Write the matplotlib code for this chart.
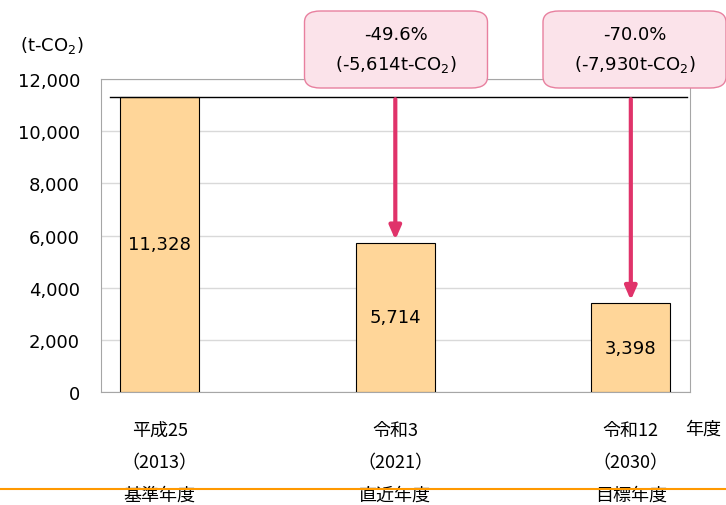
import matplotlib
matplotlib.use("Agg")
import matplotlib.pyplot as plt
from matplotlib.patches import FancyBboxPatch
from matplotlib.lines import Line2D

plt.rcParams['font.family'] = ['DejaVu Sans', 'Noto Sans CJK JP']
jp = ['Noto Sans CJK JP', 'DejaVu Sans']

categories = ['平成25\n（2013）\n基準年度', '令和3\n（2021）\n直近年度', '令和12\n（2030）\n目標年度']
values = [11328, 5714, 3398]
value_labels = ['11,328', '5,714', '3,398']
changes = ['-49.6%\n(-5,614t-CO$_2$)', '-70.0%\n(-7,930t-CO$_2$)']
yticks = [0, 2000, 4000, 6000, 8000, 10000, 12000]

bar_color = '#FFD699'
arrow_color = '#E0336A'

fig = plt.figure(figsize=(7.26, 5.06), dpi=100)
ax = fig.add_axes([0.139, 0.2233, 0.811, 0.6186])

x = list(range(len(values)))
ax.bar(x, values, width=0.335, color=bar_color, edgecolor='black', linewidth=0.8, zorder=3)
for xi, v, lab in zip(x, values, value_labels):
    ax.text(xi, v / 2, lab, ha='center', va='center', fontsize=13, zorder=4)

ax.set_xlim(-0.25, 2.25)
ax.set_ylim(0, 12000)
ax.set_yticks(yticks)
ax.set_yticklabels([f'{t:,}' for t in yticks], fontsize=13)
ax.tick_params(axis='y', length=0, pad=15)
ax.grid(axis='y', color='#D9D9D9', linewidth=1, zorder=0)
for s in ax.spines.values():
    s.set_color('#A6A6A6')

ax.set_xticks(x)
ax.set_xticklabels(categories, fontsize=13, linespacing=2.03, va='top', family=jp)
ax.tick_params(axis='x', length=0, pad=21)

# baseline level line
ax.plot([-0.21, 2.24], [values[0], values[0]], color='black', linewidth=1, zorder=4)

# arrows from baseline level down to each bar
for i in [1, 2]:
    ax.annotate('', xy=(i, values[i] + 120), xytext=(i, values[0] - 100),
                arrowprops=dict(arrowstyle='-|>,head_width=0.35,head_length=0.8',
                                color=arrow_color, linewidth=3, shrinkA=0, shrinkB=0),
                zorder=5)

box_w, box_h = 183 / 726, 77 / 506
for cx, txt in zip([396, 634.5], changes):
    x0 = cx / 726 - box_w / 2
    y0 = 1 - 89 / 506
    patch = FancyBboxPatch((x0, y0), box_w, box_h,
                           boxstyle='round,pad=0,rounding_size=0.022',
                           transform=fig.transFigure, facecolor='#FBE3EA',
                           edgecolor='#E8809F', linewidth=1, zorder=10)
    fig.add_artist(patch)
    fig.text(cx / 726, y0 + box_h / 2, txt, ha='center', va='center',
             fontsize=13, linespacing=1.6, zorder=11)

fig.text(52 / 726, 1 - 45 / 506, '(t-CO$_2$)', ha='center', va='center', fontsize=13)
fig.text(703 / 726, 1 - 430 / 506, '年度', ha='center', va='center', fontsize=13, family=jp)

fig.add_artist(Line2D([0, 1], [1 - 490 / 506, 1 - 490 / 506], transform=fig.transFigure,
                      color='#FF9900', linewidth=1.5))

fig.savefig('out.png', dpi=100)
